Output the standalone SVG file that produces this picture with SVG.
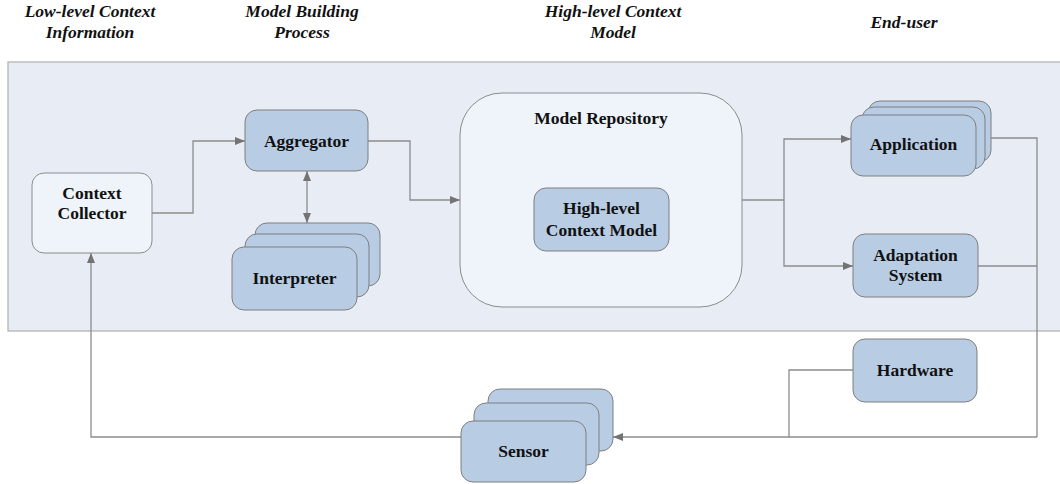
<svg xmlns="http://www.w3.org/2000/svg" width="1060" height="484" viewBox="0 0 1060 484">
<defs>
<style>
text{font-family:'Liberation Serif','DejaVu Serif',serif;font-weight:bold;fill:#111;text-anchor:middle}
.t{font-size:17.5px}
.h{font-size:17.5px;font-style:italic}
.n{fill:#b8cce4;stroke:#7f7f7f;stroke-width:1}
.l{fill:#eef4f9;stroke:#8c8c8c;stroke-width:1}
.c{fill:none;stroke:#8c8c8c;stroke-width:1.3}
</style>
<marker id="a" viewBox="0 0 10 10" refX="10" refY="5" markerWidth="10" markerHeight="10" markerUnits="userSpaceOnUse" orient="auto-start-reverse">
<path d="M0,1 L10,5 L0,9 Z" fill="#737373"/>
</marker>
</defs>
<rect width="1060" height="484" fill="#ffffff"/>
<g id="titles" font-family="Liberation Serif, serif">
<text class="h" x="90" y="17">Low-level Context</text>
<text class="h" x="90" y="38">Information</text>
<text class="h" x="302" y="17">Model Building</text>
<text class="h" x="302" y="38">Process</text>
<text class="h" x="613" y="17">High-level Context</text>
<text class="h" x="613" y="38">Model</text>
<text class="h" x="904" y="28">End-user</text>
</g>
<rect id="panel" x="8" y="62" width="1060" height="269" fill="#e8ecf5" stroke="#b4b4b4" stroke-width="1.3"/>
<g id="connectors">
<polyline class="c" points="152,213 193,213 193,141 245,141" marker-end="url(#a)"/>
<polyline class="c" points="368,141 410,141 410,200 460,200" marker-end="url(#a)"/>
<line class="c" x1="307" y1="171" x2="307" y2="223" marker-start="url(#a)" marker-end="url(#a)"/>
<polyline class="c" points="742,200 784,200"/>
<polyline class="c" points="784,200 784,139 851,139" marker-end="url(#a)"/>
<polyline class="c" points="784,200 784,266 853,266" marker-end="url(#a)"/>
<polyline class="c" points="991,138 1037,138 1037,437"/>
<polyline class="c" points="978,266 1037,266"/>
<polyline class="c" points="1037,437 613,437" marker-end="url(#a)"/>
<polyline class="c" points="853,370 789,370 789,437"/>
<polyline class="c" points="461,437 91,437 91,253" marker-end="url(#a)"/>
</g>
<g id="context-collector">
<rect class="l" x="32" y="173" width="120" height="80" rx="12"/>
<text class="t" x="92" y="199">Context</text>
<text class="t" x="92" y="219">Collector</text>
</g>
<g id="aggregator">
<rect class="n" x="245" y="110" width="123" height="61" rx="12"/>
<text class="t" x="306.5" y="147">Aggregator</text>
</g>
<g id="interpreter">
<rect class="n" x="255" y="223" width="125" height="63" rx="12"/>
<rect class="n" x="245" y="234" width="124" height="63" rx="12"/>
<rect class="n" x="232" y="247" width="125" height="63" rx="12"/>
<text class="t" x="294.5" y="284">Interpreter</text>
</g>
<g id="model-repository">
<rect class="l" x="460" y="93" width="282" height="214" rx="42"/>
<text class="t" x="601" y="124">Model Repository</text>
</g>
<g id="high-level-context-model">
<rect class="n" x="534" y="188" width="135" height="63" rx="12"/>
<text class="t" x="601.5" y="214">High-level</text>
<text class="t" x="601.5" y="236">Context Model</text>
</g>
<g id="application">
<rect class="n" x="868" y="101" width="123" height="61" rx="12"/>
<rect class="n" x="862" y="107" width="123" height="62" rx="12"/>
<rect class="n" x="851" y="115" width="125" height="61" rx="12"/>
<text class="t" x="913.5" y="150">Application</text>
</g>
<g id="adaptation-system">
<rect class="n" x="853" y="234" width="125" height="63" rx="12"/>
<text class="t" x="915.5" y="261">Adaptation</text>
<text class="t" x="915.5" y="281">System</text>
</g>
<g id="hardware">
<rect class="n" x="853" y="339" width="124" height="63" rx="12"/>
<text class="t" x="915" y="376">Hardware</text>
</g>
<g id="sensor">
<rect class="n" x="488" y="389" width="125" height="62" rx="12"/>
<rect class="n" x="474" y="403" width="125" height="62" rx="12"/>
<rect class="n" x="461" y="421" width="125" height="61" rx="12"/>
<text class="t" x="523.5" y="457">Sensor</text>
</g>
</svg>
